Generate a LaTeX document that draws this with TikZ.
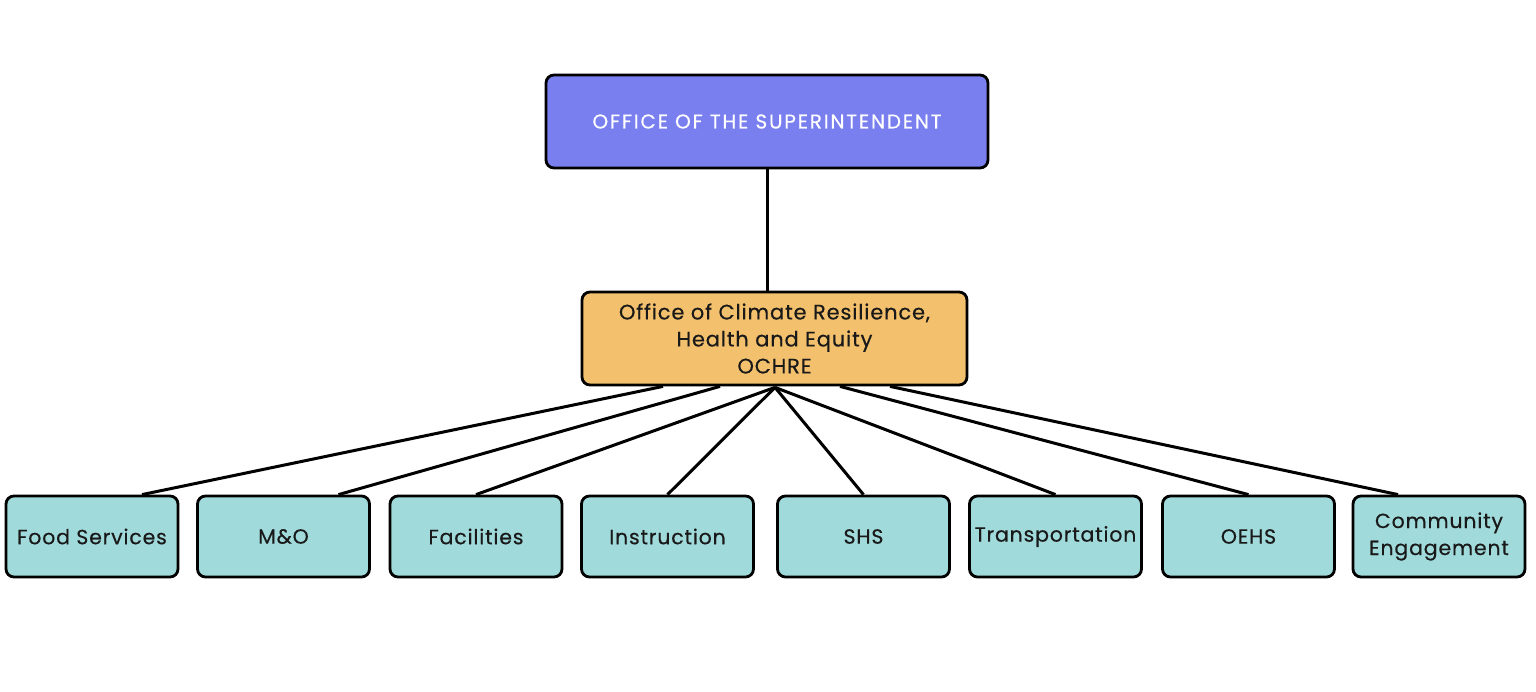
\documentclass[tikz,border=0pt]{standalone}
\usepackage{fontspec}
\setmainfont[LetterSpace=4,FakeBold=0.4]{Poppins}
\newfontfamily\topfont[LetterSpace=9,FakeBold=0.4]{Poppins}
\usetikzlibrary{calc}
\definecolor{topfill}{RGB}{122,127,240}
\definecolor{midfill}{RGB}{243,193,109}
\definecolor{botfill}{RGB}{160,218,219}
\definecolor{txt}{RGB}{25,25,25}
\tikzset{
  box/.style={draw=black, line width=2.8pt, rounded corners=8pt, align=center, inner sep=0pt},
  topbox/.style={box, fill=topfill, minimum width=442pt, minimum height=93pt, text=white, font=\topfont\fontsize{20}{24}\selectfont},
  midbox/.style={box, fill=midfill, minimum width=385pt, minimum height=93pt, text=txt, font=\fontsize{21}{27}\selectfont},
  unitbox/.style={box, fill=botfill, minimum width=172pt, minimum height=81pt, text=txt, font=\fontsize{20.5}{27}\selectfont},
  link/.style={draw=black, line width=3pt}
}
\begin{document}
\begin{tikzpicture}[x=1pt,y=-1pt]
\useasboundingbox (0,0) rectangle (1536,692);
\node[topbox] (sup) at (767,121.5) {OFFICE OF THE SUPERINTENDENT};
\node[midbox] (ochre) at (774.5,338.5) {Office of Climate Resilience,\\Health and Equity\\OCHRE};
\node[unitbox] (food) at (92,536.5) {Food Services};
\node[unitbox] (mo) at (283.5,536.5) {M\&O};
\node[unitbox] (fac) at (476,536.5) {Facilities};
\node[unitbox] (ins) at (667.5,536.5) {Instruction};
\node[unitbox] (shs) at (863.5,536.5) {SHS};
\node[unitbox] (tra) at (1055.5,536.5) {Transportation};
\node[unitbox] (oehs) at (1248.5,536.5) {OEHS};
\node[unitbox] (com) at (1439,536.5) {Community\\Engagement};
\coordinate (hub) at ($(ochre.south)+(0.5,1)$);
\draw[link] (sup.south) -- (sup.south |- ochre.north);
\draw[link] ($(ochre.south)+(-111.5,0)$) -- ($(food.north)+(50,0)$);
\draw[link] ($(ochre.south)+(-54.5,0)$) -- ($(mo.north)+(55,0)$);
\draw[link] (hub) -- (fac.north);
\draw[link] (hub) -- (ins.north);
\draw[link] (hub) -- (shs.north);
\draw[link] (hub) -- (tra.north);
\draw[link] ($(ochre.south)+(65.5,0)$) -- (oehs.north);
\draw[link] ($(ochre.south)+(115.5,0)$) -- ($(com.north)+(-41,0)$);
\end{tikzpicture}
\end{document}
